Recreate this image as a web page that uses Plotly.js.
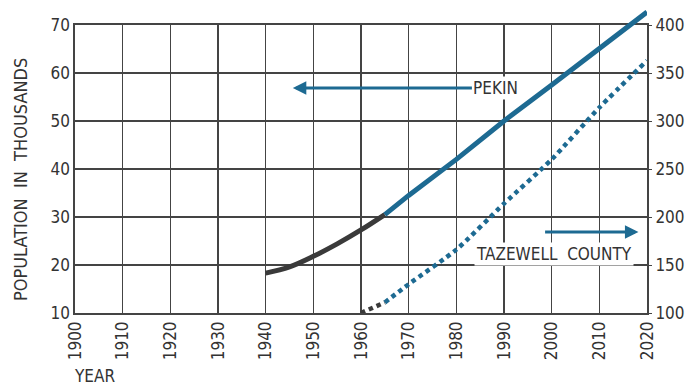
<!DOCTYPE html>
<html>
<head>
<meta charset="utf-8">
<script src="https://cdn.plot.ly/plotly-3.0.1.min.js"></script>
<style>html,body{margin:0;padding:0;background:#fff;}#chart{width:694px;height:388px;}</style>
</head>
<body>
<div id="chart"></div>
<script>
// Data
const pekinYearsHist = [1940, 1945, 1950, 1955, 1960, 1965];
const pekinHist = [18.3, 19.6, 21.8, 24.4, 27.3, 30.5];          // thousands
const pekinYearsProj = [1965, 1970, 1980, 1990, 2000, 2010, 2020];
const pekinProj = [30.5, 34.5, 42.0, 50.0, 57.5, 65.0, 72.7];     // thousands
const countyYearsHist = [1960, 1965];
const countyHist = [100, 111];                                      // thousands
const countyYearsProj = [1965, 1970, 1980, 1990, 2000, 2010, 2020];
const countyProj = [111, 130, 166, 214, 260, 314, 363];            // thousands
const leftTicks = [10, 20, 30, 40, 50, 60, 70];
const rightTicks = [100, 150, 200, 250, 300, 350, 400];
const yearTicks = [1900, 1910, 1920, 1930, 1940, 1950, 1960, 1970, 1980, 1990, 2000, 2010, 2020];

const BLUE = '#1d6a92';
const DARK = '#3a3a3a';
const GRID = '#444444';
const FONT = '"DejaVu Sans Condensed", "Liberation Sans Narrow", "DejaVu Sans", sans-serif';

// main y-axis [10,70] occupies lower part; y3 extends same scale to top of plotting area
const mainTop = 70, mainBottom = 10;
const mainDomainTop = 288 / 305;
const y3Top = mainBottom + (mainTop - mainBottom) / mainDomainTop;

const traces = [
  {x: pekinYearsHist, y: pekinHist, xaxis: 'x2', yaxis: 'y3', mode: 'lines', line: {color: DARK, width: 5, shape: 'spline'}, hoverinfo: 'skip'},
  {x: pekinYearsProj, y: pekinProj, xaxis: 'x2', yaxis: 'y3', mode: 'lines', line: {color: BLUE, width: 5}, hoverinfo: 'skip'},
  {x: countyYearsHist, y: countyHist, xaxis: 'x', yaxis: 'y2', mode: 'lines', line: {color: DARK, width: 4.5, dash: '4.5px,4px'}, hoverinfo: 'skip'},
  {x: countyYearsProj, y: countyProj, xaxis: 'x', yaxis: 'y2', mode: 'lines', line: {color: BLUE, width: 4.5, dash: '4.5px,4px', shape: 'spline', smoothing: 0.6}, hoverinfo: 'skip'}
];

const tickFont = {family: FONT, size: 17, color: '#333'};

const layout = {
  width: 694, height: 388,
  margin: {l: 75, r: 47, t: 8, b: 75},
  paper_bgcolor: '#fff', plot_bgcolor: 'rgba(0,0,0,0)',
  showlegend: false,
  xaxis: {
    range: [1900, 2020], domain: [0, 1], anchor: 'y',
    tickvals: yearTicks, ticktext: yearTicks.map(String), tickangle: -90,
    showgrid: true, gridcolor: GRID, gridwidth: 1.5,
    showline: true, linecolor: GRID, linewidth: 1.6, mirror: true,
    ticks: '', zeroline: false, tickfont: tickFont
  },
  yaxis: {
    range: [mainBottom, mainTop], domain: [0, mainDomainTop], anchor: 'x',
    tickvals: leftTicks, ticktext: leftTicks.map(String),
    showgrid: true, gridcolor: GRID, gridwidth: 1.5,
    showline: true, linecolor: GRID, linewidth: 1.6, mirror: true,
    ticks: '', zeroline: false, tickfont: tickFont
  },
  yaxis2: {
    range: [100, 400], overlaying: 'y', side: 'right', anchor: 'x',
    tickvals: rightTicks, ticktext: rightTicks.map(String),
    showgrid: false, zeroline: false, showline: false,
    ticks: 'outside', ticklen: 4, tickcolor: GRID, tickfont: tickFont
  },
  xaxis2: {range: [1900, 2020], domain: [0, 1], anchor: 'y3', visible: false},
  yaxis3: {range: [mainBottom, y3Top], domain: [0, 1], anchor: 'x2', visible: false},
  annotations: [
    {xref: 'x', yref: 'y', x: 1945.7, y: 56.9, axref: 'x', ayref: 'y', ax: 1988.3, ay: 56.9,
     text: 'PEKIN', showarrow: true, arrowhead: 2, arrowsize: 0.9, arrowwidth: 3, arrowcolor: BLUE,
     font: {family: FONT, size: 17, color: '#333'}, bgcolor: '#fff', borderpad: 1},
    {xref: 'x', yref: 'y2', x: 2018.2, y: 184.4, axref: 'x', ayref: 'y2', ax: 1998.2, ay: 184.4,
     text: ' ', showarrow: true, arrowhead: 2, arrowsize: 0.9, arrowwidth: 3, arrowcolor: BLUE,
     font: {family: FONT, size: 2}, standoff: 0},
    {xref: 'x', yref: 'y2', x: 2000.5, y: 161.5, text: 'TAZEWELL  COUNTY', showarrow: false,
     font: {family: FONT, size: 17, color: '#333'}, bgcolor: '#fff', borderpad: 1},
    {xref: 'paper', yref: 'paper', x: -0.096, y: 0.436, xanchor: 'center', yanchor: 'middle',
     text: 'POPULATION  IN  THOUSANDS', textangle: -90, showarrow: false,
     font: {family: FONT, size: 18, color: '#333'}},
    {xref: 'paper', yref: 'paper', x: -0.006, y: -0.207, xanchor: 'left', yanchor: 'middle',
     text: 'YEAR', showarrow: false, font: {family: FONT, size: 17, color: '#333'}}
  ]
};

Plotly.newPlot('chart', traces, layout, {staticPlot: true, displayModeBar: false});
</script>
</body>
</html>
